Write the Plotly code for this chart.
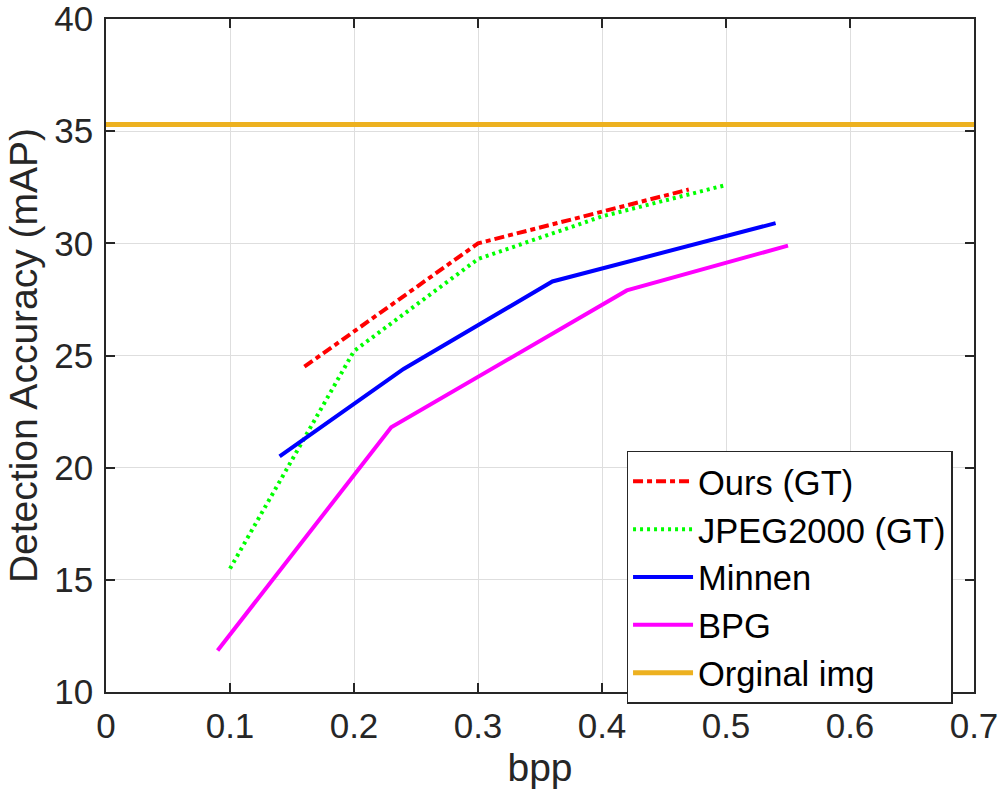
import plotly.graph_objects as go

# ---- data ----
ours_bpp = [0.16, 0.30, 0.47]
ours_map = [24.5, 30.0, 32.4]

jpeg_bpp = [0.10, 0.20, 0.30, 0.40, 0.50]
jpeg_map = [15.5, 25.2, 29.3, 31.2, 32.6]

minnen_bpp = [0.14, 0.24, 0.36, 0.54]
minnen_map = [20.5, 24.4, 28.3, 30.9]

bpg_bpp = [0.09, 0.23, 0.42, 0.55]
bpg_map = [11.85, 21.8, 27.9, 29.9]

orig_bpp = [0.0, 0.7]
orig_map = [35.3, 35.3]

x_ticks = [0, 0.1, 0.2, 0.3, 0.4, 0.5, 0.6, 0.7]
x_labels = ["0", "0.1", "0.2", "0.3", "0.4", "0.5", "0.6", "0.7"]
y_ticks = [10, 15, 20, 25, 30, 35, 40]
y_labels = ["10", "15", "20", "25", "30", "35", "40"]

FONT = "Liberation Sans, Arial, Helvetica, sans-serif"
AX = "#262626"

fig = go.Figure()
fig.add_trace(go.Scatter(x=ours_bpp, y=ours_map, mode="lines", name="Ours (GT)",
                         line=dict(color="#FF0000", width=4, dash="10px,4px,5px,4px")))
fig.add_trace(go.Scatter(x=jpeg_bpp, y=jpeg_map, mode="lines", name="JPEG2000 (GT)",
                         line=dict(color="#00FF00", width=4, dash="3px,4px")))
fig.add_trace(go.Scatter(x=minnen_bpp, y=minnen_map, mode="lines", name="Minnen",
                         line=dict(color="#0000FF", width=4)))
fig.add_trace(go.Scatter(x=bpg_bpp, y=bpg_map, mode="lines", name="BPG",
                         line=dict(color="#FF00FF", width=4)))
fig.add_trace(go.Scatter(x=orig_bpp, y=orig_map, mode="lines", name="Orginal img",
                         line=dict(color="#EDB120", width=5)))

axis_common = dict(
    showgrid=True, gridcolor="#dedede", gridwidth=1,
    showline=True, linecolor=AX, linewidth=1.5, mirror="ticks",
    ticks="inside", ticklen=9, tickwidth=1.5, tickcolor=AX,
    tickfont=dict(family=FONT, size=35, color=AX),
    zeroline=False, automargin=False, ticklabeloverflow="allow",
)

fig.update_layout(
    width=1006, height=794,
    margin=dict(l=106, r=32, t=19, b=102),
    paper_bgcolor="white", plot_bgcolor="white",
    font=dict(family=FONT, color=AX),
    xaxis=dict(range=[0, 0.7], tickvals=x_ticks, ticktext=x_labels,
               ticklabelstandoff=2,
               title=dict(text="bpp", font=dict(family=FONT, size=39, color=AX), standoff=10),
               **axis_common),
    yaxis=dict(range=[10, 40], tickvals=y_ticks, ticktext=y_labels,
               ticklabelstandoff=4,
               title=dict(text="Detection Accuracy (mAP)", font=dict(family=FONT, size=39, color=AX), standoff=5),
               **axis_common),
    legend=dict(x=0.5997, y=0.3583, xanchor="left", yanchor="top",
                bgcolor="white", bordercolor=AX, borderwidth=1.5,
                font=dict(family=FONT, size=34.5, color="black"),
                tracegroupgap=0, itemwidth=60),
    showlegend=True,
)

fig.write_html("out.html", config={"displayModeBar": False},
               post_script="document.body.style.margin='0';document.body.style.overflow='hidden';")
